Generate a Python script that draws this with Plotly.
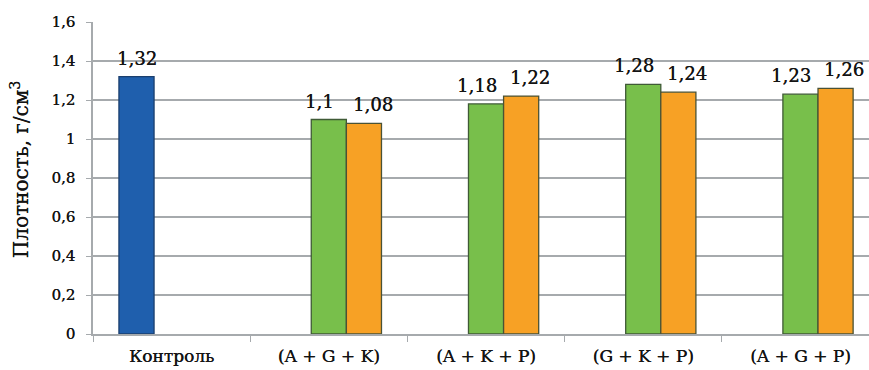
import plotly.graph_objects as go

categories = ["Контроль", "(A + G + K)", "(A + K + P)", "(G + K + P)", "(A + G + P)"]
control_vals = [1.32, None, None, None, None]
green_vals = [None, 1.10, 1.18, 1.28, 1.23]
orange_vals = [None, 1.08, 1.22, 1.24, 1.26]
y_ticks = [0, 0.2, 0.4, 0.6, 0.8, 1.0, 1.2, 1.4, 1.6]


def fmt(v):
    return f"{v:g}".replace(".", ",")


serif = "DejaVu Serif, Liberation Serif, serif"
ink = "#141414"
heavy = "0.3px 0 0 #141414"  # thickens the thin serif strokes slightly
BAR_PX = 35  # bar width in pixels at this figure size

# (values, fill, outline, slot in group, extra label nudge in px)
series = [
    (control_vals, "#1f5fad", "#1b3f6e", -1, 0),
    (green_vals, "#78bf4b", "#3f5a36", 0, -9),
    (orange_vals, "#f7a125", "#4a5235", 1, 9),
]

fig = go.Figure()
annotations = []
for vals, color, edge, slot, nudge in series:
    fig.add_trace(go.Bar(
        x=categories, y=vals,
        marker=dict(color=color, line=dict(color=edge, width=1.3)),
        showlegend=False, hoverinfo="x+y",
    ))
    for cat, v in zip(categories, vals):
        if v is None:
            continue
        annotations.append(dict(
            x=cat, y=v, text=fmt(v), showarrow=False,
            xref="x", yref="y", xanchor="center", yanchor="bottom",
            xshift=slot * BAR_PX + nudge, yshift=6,
            font=dict(family=serif, size=18, color=ink, shadow=heavy),
        ))

# y-axis title placed as a rotated annotation left of the tick labels
annotations.append(dict(
    text="Плотность, г/см<sup>3</sup>", textangle=-90, showarrow=False,
    xref="paper", yref="paper", x=-0.094, y=0.525,
    xanchor="center", yanchor="middle",
    font=dict(family=serif, size=20, color=ink, shadow=heavy),
))

fig.update_layout(
    width=869, height=370,
    margin=dict(l=93, r=0, t=22, b=36),
    barmode="group", bargap=0.33, bargroupgap=0,
    plot_bgcolor="white", paper_bgcolor="white",
    font=dict(family=serif, color=ink),
    annotations=annotations,
)
fig.update_yaxes(
    range=[0, 1.6], tickvals=y_ticks,
    ticktext=[fmt(v) for v in y_ticks],
    tickfont=dict(family=serif, size=15, color=ink, shadow=heavy),
    ticklabelstandoff=8,
    showgrid=True, gridcolor="#a6aaad", gridwidth=1.5,
    showline=True, linecolor="#a6aaad", linewidth=1.5,
    ticks="outside", ticklen=5, tickcolor="#a6aaad",
    zeroline=False,
)
fig.update_xaxes(
    range=[-0.5, 4.436],
    tickfont=dict(family=serif, size=17, color=ink, shadow=heavy),
    ticklabelstandoff=6,
    showline=True, linecolor="#a6aaad", linewidth=1.5,
    ticks="outside", tickson="boundaries", ticklen=6, tickcolor="#a6aaad",
)

fig.write_html("out.html")
